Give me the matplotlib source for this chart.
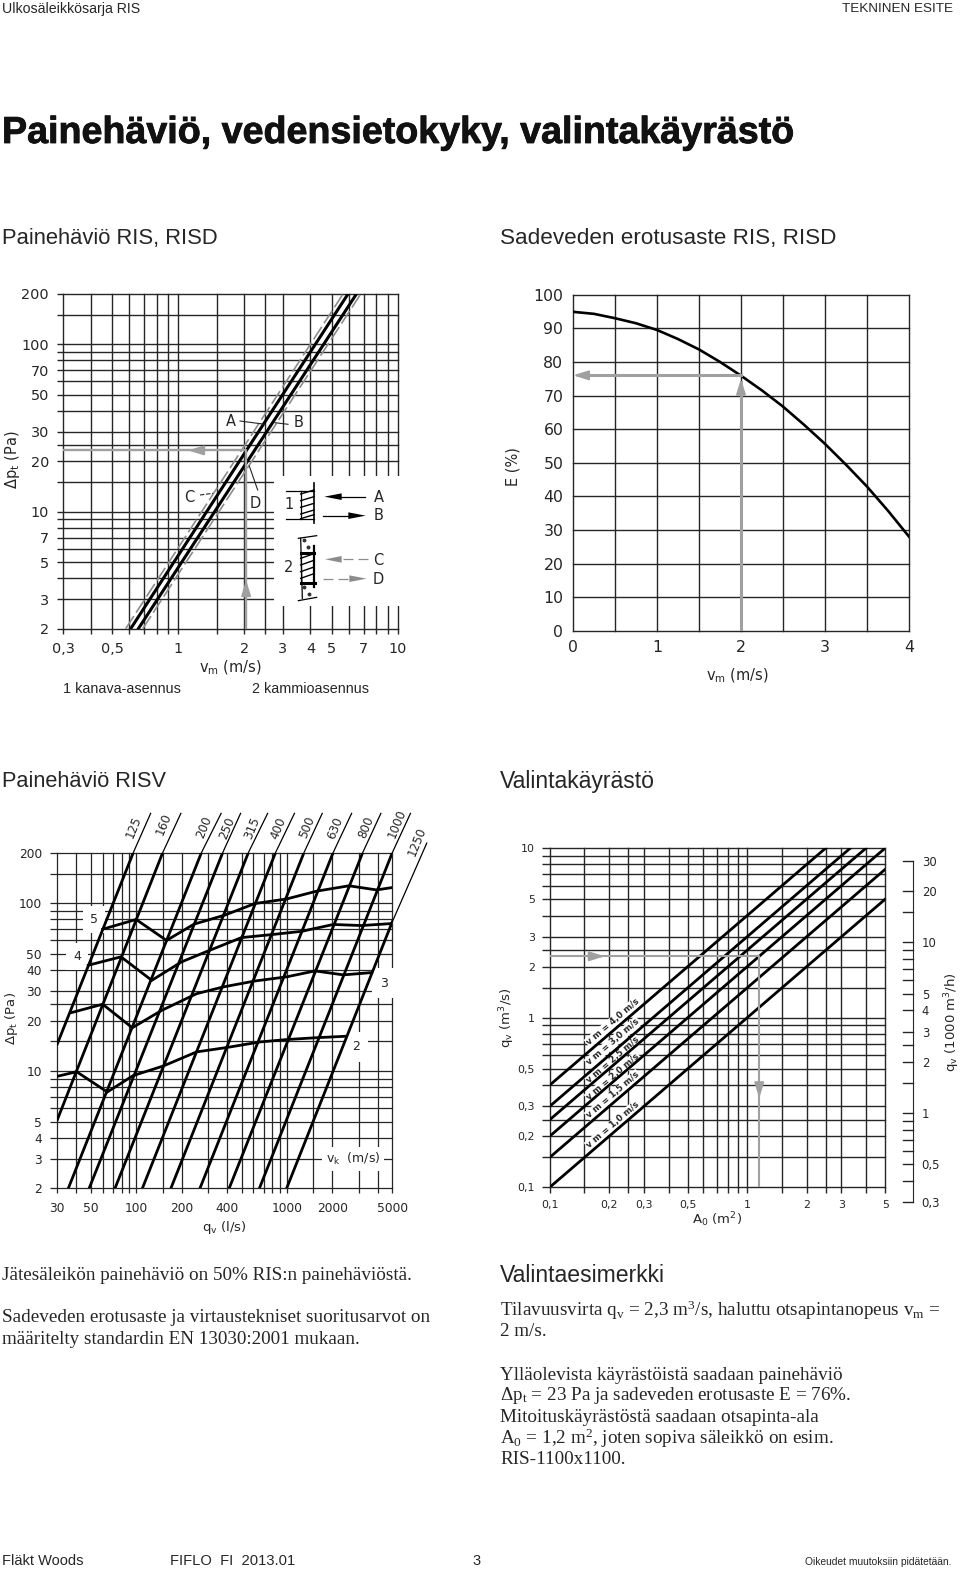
import matplotlib
matplotlib.use('Agg')
from matplotlib import pyplot as plt
from matplotlib import patheffects
from matplotlib.patches import Rectangle, Polygon
from matplotlib.ticker import NullLocator, NullFormatter

W, H = 960, 1571
DARK = '#262626'
GREY = '#a0a0a0'
SANS = 'DejaVu Sans'
HELV = 'Liberation Sans'
SERIF = 'Liberation Serif'
plt.rcParams['mathtext.default'] = 'regular' # subscripts keep the font of the text

# chart 1: pressure drop RIS, RISD
v1_grid = [0.3, 0.4, 0.5, 0.6, 0.7, 0.8, 0.9, 1, 1.5, 2, 2.5, 3, 4, 5, 6, 7, 8, 9, 10]
dp_grid = [2, 3, 4, 5, 6, 7, 8, 9, 10, 15, 20, 25, 30, 40, 50, 60, 70, 80, 90, 100, 150, 200]
v1_ticks = [0.3, 0.5, 1, 2, 3, 4, 5, 7, 10]
v1_labels = ['0,3', '0,5', '1', '2', '3', '4', '5', '7', '10']
dp1_ticks = [2, 3, 5, 7, 10, 20, 30, 50, 70, 100, 200]
dp1_labels = ['2', '3', '5', '7', '10', '20', '30', '50', '70', '100', '200']
dp_ends = [2, 200]
line_a = [0.608, 5.95]
line_b = [0.659, 6.5]
line_c = [0.577, 5.65]
line_d = [0.69, 6.8]
v1_example = 2.04
dp1_example = 23.2

# chart 2: rain separation
v2_grid = [0, 0.5, 1, 1.5, 2, 2.5, 3, 3.5, 4]
e_grid = [0, 10, 20, 30, 40, 50, 60, 70, 80, 90, 100]
v2_ticks = [0, 1, 2, 3, 4]
v_curve = [0, 0.25, 0.5, 0.75, 1, 1.25, 1.5, 1.75, 2, 2.25, 2.5, 2.75, 3, 3.25, 3.5, 3.75, 4]
e_curve = [94.9, 94.3, 93, 91.5, 89.5, 86.8, 83.7, 80, 75.9, 71.5, 66.7, 61.3, 55.6, 49.4, 42.9, 35.7, 28]
v2_example = 2
e_example = 76

# chart 3: pressure drop RISV
q_grid = [30, 40, 50, 60, 70, 80, 90, 100, 150, 200, 300, 400, 500, 600, 700, 800, 900, 1000, 1500, 2000, 3000, 4000, 5000]
q_ticks = [30, 50, 100, 200, 400, 1000, 2000, 5000]
q_labels = ['30', '50', '100', '200', '400', '1000', '2000', '5000']
dp3_ticks = [2, 3, 4, 5, 10, 20, 30, 40, 50, 100, 200]
dp3_labels = ['2', '3', '4', '5', '10', '20', '30', '40', '50', '100', '200']
# duct lines: q and dp at start, at end of the thick part, at end of the thin part
duct_sizes = ['125', '160', '200', '250', '315', '400', '500', '630', '800', '1000', '1250']
duct_q0 = [30, 30, 35.5, 48.8, 72.4, 110, 170, 265, 414, 657, 996]
duct_dp0 = [14.5, 5.12, 2, 2, 2, 2, 2, 2, 2, 2, 2]
duct_q1 = [95.7, 150, 271, 375, 555, 840, 1297, 2025, 3180, 5000, 5000]
duct_dp1 = [200, 200, 200, 200, 200, 200, 200, 200, 200, 200, 77.5]
duct_q2 = [124.8, 198, 366, 493, 745, 1122, 1715, 2686, 4200, 6600, 8460]
duct_dp2 = [343, 343, 343, 343, 343, 343, 343, 343, 343, 343, 228]
q_vk5 = [60, 100, 159, 242, 388, 614, 996, 1574, 2581, 3935, 5000]
dp_vk5 = [70, 80, 60, 75, 85, 99.6, 106, 118, 127, 120, 124]
q_vk4 = [48.2, 79.3, 127, 200, 301, 500, 792, 1253, 2031, 3130, 5000]
dp_vk4 = [42.7, 47.9, 34.7, 44.7, 52, 62.4, 65, 68, 74.7, 73.6, 75.7]
q_vk3 = [37.3, 60, 94.3, 148, 252, 378, 614, 996, 1535, 2366, 3648]
dp_vk3 = [22.3, 25, 18.1, 23, 28.9, 31.7, 34.4, 36.4, 39.5, 37.4, 38.6]
q_vk2 = [30, 40.3, 64.4, 95.7, 151, 252, 398, 663, 996, 1574, 2427]
dp_vk2 = [9.3, 9.9, 7.5, 9.4, 10.7, 13, 13.8, 14.9, 15.4, 15.8, 16.1]

# chart 4: selection chart
a_grid = [0.1, 0.15, 0.2, 0.25, 0.3, 0.4, 0.5, 0.6, 0.7, 0.8, 0.9, 1, 1.5, 2, 2.5, 3, 4, 5]
qs_grid = [0.1, 0.15, 0.2, 0.25, 0.3, 0.4, 0.5, 0.6, 0.7, 0.8, 0.9, 1, 1.5, 2, 2.5, 3, 4, 5, 6, 7, 8, 9, 10]
a_ticks = [0.1, 0.2, 0.3, 0.5, 1, 2, 3, 5]
a_labels = ['0,1', '0,2', '0,3', '0,5', '1', '2', '3', '5']
qs_ticks = [0.1, 0.2, 0.3, 0.5, 1, 2, 3, 5, 10]
qs_labels = ['0,1', '0,2', '0,3', '0,5', '1', '2', '3', '5', '10']
qh_grid = [0.3, 0.4, 0.5, 0.6, 0.7, 0.8, 0.9, 1, 1.5, 2, 2.5, 3, 4, 5, 6, 7, 8, 9, 10, 15, 20, 30]
qh_ticks = [0.3, 0.5, 1, 2, 3, 4, 5, 10, 20, 30]
qh_labels = ['0,3', '0,5', '1', '2', '3', '4', '5', '10', '20', '30']
vm_names = ['4,0', '3,0', '2,5', '2,0', '1,5', '1,0']
vm_a0 = [0.1, 0.1, 0.1, 0.1, 0.1, 0.1]
vm_q0 = [0.4, 0.3, 0.25, 0.2, 0.15, 0.1]
vm_a1 = [2.5, 3.33, 4, 5, 5, 5]
vm_q1 = [10, 10, 10, 10, 7.5, 5]
a_example = 1.15
qs_example = 2.3

fig = plt.figure(figsize=(W/100, H/100), dpi=100)
ov = fig.add_axes([0, 0, 1, 1], zorder=10) # overlay in pixels of the page, for all loose text
ov.set_xlim(0, W)
ov.set_ylim(H, 0)
ov.axis('off')

def chart(left, right, top, bottom, xgrid, ygrid, xticks, xlabels, yticks, ylabels, size, xlen, ylen, pad, log=True, lw=1.0):
    ax = fig.add_axes([left/W, 1-bottom/H, (right-left)/W, (bottom-top)/H])
    if log:
        ax.set_xscale('log')
        ax.set_yscale('log')
    ax.set_xlim(xgrid[0], xgrid[-1])
    ax.set_ylim(ygrid[0], ygrid[-1])
    xmap = dict(zip(xticks, xlabels))
    ymap = dict(zip(yticks, ylabels))
    ax.set_xticks(xgrid)
    ax.set_xticklabels([xmap.get(v, '') for v in xgrid], fontsize=size, color=DARK, family=SANS)
    ax.set_yticks(ygrid)
    ax.set_yticklabels([ymap.get(v, '') for v in ygrid], fontsize=size, color=DARK, family=SANS)
    ax.xaxis.set_minor_locator(NullLocator())
    ax.yaxis.set_minor_locator(NullLocator())
    ax.xaxis.set_minor_formatter(NullFormatter())
    ax.yaxis.set_minor_formatter(NullFormatter())
    ax.tick_params(axis='x', length=xlen, width=lw, color=DARK, pad=pad)
    ax.tick_params(axis='y', length=ylen, width=lw, color=DARK, pad=pad)
    ax.grid(True, color=DARK, lw=lw)
    ax.set_axisbelow(True)
    for line in ax.get_xgridlines() + ax.get_ygridlines():
        line.set_clip_on(False)
    for s in ax.spines.values():
        s.set_visible(False)
    return ax

def grey_head(ax, x0, y0, x1, y1, scale=10):
    ax.annotate('', xy=(x1, y1), xytext=(x0, y0), zorder=6,
                arrowprops=dict(arrowstyle='-|>,head_length=0.9,head_width=0.28', mutation_scale=scale,
                                color=GREY, lw=1.5, shrinkA=0, shrinkB=0))

def label(x, y, s, size=10.5, rot=0, fam=SANS, **kw):
    ov.text(x, y, s, fontsize=size, rotation=rot, family=fam, color=DARK, ha='center', va='center',
            rotation_mode='anchor', **kw)

# page text
ov.text(2, 9, 'Ulkosäleikkösarja RIS', fontsize=10.2, family=HELV, color=DARK, va='center')
ov.text(953, 9, 'TEKNINEN ESITE', fontsize=9.7, family=HELV, color=DARK, va='center', ha='right')
title = ov.text(2, 133, 'Painehäviö, vedensietokyky, valintakäyrästö', fontsize=27.1, family=HELV, weight='bold', color='#111111', va='center')
title.set_path_effects([patheffects.withStroke(linewidth=0.6, foreground='#111111')]) # the original is heavier
ov.text(2, 238, 'Painehäviö RIS, RISD', fontsize=15.8, family=HELV, color=DARK, va='center')
ov.text(500, 238, 'Sadeveden erotusaste RIS, RISD', fontsize=16.2, family=HELV, color=DARK, va='center')
ov.text(2, 781, 'Painehäviö RISV', fontsize=15.7, family=HELV, color=DARK, va='center')
ov.text(500, 781, 'Valintakäyrästö', fontsize=16.6, family=HELV, color=DARK, va='center')
ov.text(500, 1276, 'Valintaesimerkki', fontsize=16.6, family=HELV, color=DARK, va='center')

body = [(2, 1275, 'Jätesäleikön painehäviö on 50% RIS:n painehäviöstä.'),
        (2, 1318, 'Sadeveden erotusaste ja virtaustekniset suoritusarvot on'),
        (2, 1339, 'määritelty standardin EN 13030:2001 mukaan.'),
        (500, 1310, 'Tilavuusvirta q$_{v}$ = 2,3 m$^{3}$/s, haluttu otsapintanopeus v$_{m}$ ='),
        (500, 1332, '2 m/s.'),
        (500, 1375, 'Ylläolevista käyrästöistä saadaan painehäviö'),
        (500, 1396, 'Δp$_{t}$ = 23 Pa ja sadeveden erotusaste E = 76%.'),
        (500, 1417, 'Mitoituskäyrästöstä saadaan otsapinta-ala'),
        (500, 1438, 'A$_{0}$ = 1,2 m$^{2}$, joten sopiva säleikkö on esim.'),
        (500, 1459, 'RIS-1100x1100.')]
for x, y, s in body:
    ov.text(x, y, s, fontsize=13.8, family=SERIF, color=DARK, va='center')

ov.text(2, 1561, 'Fläkt Woods', fontsize=10.5, family=HELV, color=DARK, va='center')
ov.text(170, 1561, 'FIFLO  FI  2013.01', fontsize=10.6, family=HELV, color=DARK, va='center')
ov.text(477, 1561, '3', fontsize=10.5, family=HELV, color=DARK, va='center', ha='center')
ov.text(951, 1562, 'Oikeudet muutoksiin pidätetään.', fontsize=7.4, family=HELV, color=DARK, va='center', ha='right')

# chart 1
ax1 = chart(63.3, 397.7, 293.7, 628.7, v1_grid, dp_grid, v1_ticks, v1_labels, dp1_ticks, dp1_labels, 10.4, 3.6, 4.3, 6)
ax1.add_patch(Rectangle((0.63, 0.068), 0.39, 0.388, transform=ax1.transAxes, fc='white', ec='none', zorder=1, clip_on=False))
for line in [line_c, line_d]:
    ax1.plot(line, dp_ends, color='#8c8c8c', lw=1.2, dashes=(9, 2.5), zorder=3)
ax1.plot(line_a, dp_ends, color='black', lw=2.2, zorder=4)
ax1.plot(line_b, dp_ends, color='black', lw=2.2, zorder=4)
ax1.plot([v1_grid[0], v1_example, v1_example], [dp1_example, dp1_example, dp_grid[0]], color=GREY, lw=1.7, zorder=5)
grey_head(ax1, 1.26, dp1_example, 1.11, dp1_example)
grey_head(ax1, v1_example, 3.25, v1_example, 3.9)

label(230, 668, 'v$_{m}$ (m/s)')
label(12, 460, 'Δp$_{t}$ (Pa)', rot=90)
label(122, 689, '1 kanava-asennus', size=10.4, fam=HELV)
label(310, 689, '2 kammioasennus', size=10.4, fam=HELV)
label(231, 421, 'A')
label(299, 422, 'B')
label(189, 497, 'C')
label(255, 503, 'D')
ov.plot([240, 265], [421, 424.3], color=DARK, lw=0.8)
ov.plot([288, 275], [424.3, 422.7], color=DARK, lw=0.8)
ov.plot([200, 213], [495, 493.3], color=DARK, lw=0.8, dashes=(4, 1.5))
ov.plot([257.7, 249.3], [490, 466], color=DARK, lw=0.8)

# inset of chart 1, drawn in pixels of the page
def z(x, y):
    return 270 + x/3, 470 + y/3

def seg(p, q, lw=0.9, color='black', **kw):
    a, b = z(*p), z(*q)
    ov.plot([a[0], b[0]], [a[1], b[1]], color=color, lw=lw, **kw)

def head(tip, tail, half=10, color='black'):
    t, b = z(*tip), z(*tail)
    w = half/3
    ov.add_patch(Polygon([t, (b[0], b[1]-w), (b[0], b[1]+w)], fc=color, ec='none'))

seg((47, 62), (132, 62))
seg((47, 148), (132, 148))
seg((92, 62), (92, 148))
seg((132, 40), (132, 160), lw=1.2)
for y in range(72, 150, 20):
    seg((92, y), (132, y-12), lw=1.0)
seg((92, 146), (132, 134), lw=1.0)
seg((285, 80), (200, 80), lw=0.9)
head((163, 80), (215, 80))
seg((160, 137), (250, 137), lw=0.9)
head((287, 137), (235, 137))
label(*z(326, 82), 'A')
label(*z(326, 138), 'B')
label(*z(57, 103), '1')

seg((92, 205), (97, 385))
seg((85, 205), (140, 197))
seg((85, 392), (140, 382))
seg((92, 248), (132, 248), lw=2.2)
seg((92, 338), (135, 338), lw=2.2)
seg((92, 248), (92, 338))
seg((132, 228), (132, 350), lw=1.6)
for y in range(265, 340, 20):
    seg((92, y), (132, y-14), lw=1.0)
for x, y in [(103, 211), (114, 231), (103, 350), (118, 373)]:
    ov.plot(*z(x, y), 'o', ms=1.8, color='#333333')
seg((295, 268), (200, 268), lw=0.9, color='#8c8c8c', dashes=(8, 4))
head((165, 268), (215, 268), color='#8c8c8c')
seg((160, 326), (250, 326), lw=0.9, color='#8c8c8c', dashes=(8, 4))
head((290, 326), (238, 326), color='#8c8c8c')
label(*z(326, 270), 'C')
label(*z(326, 328), 'D')
label(*z(55, 292), '2')

# chart 2
ax2 = chart(573, 909, 294.7, 630.7, v2_grid, e_grid, v2_ticks, [str(v) for v in v2_ticks], e_grid, [str(v) for v in e_grid], 11.3, 0, 0, 7, log=False)
ax2.plot(v_curve, e_curve, color='black', lw=1.9, zorder=4)
ax2.plot([v2_example, v2_example], [e_grid[0], 74], color=GREY, lw=2.2, zorder=5)
ax2.plot([v2_example, 0.1], [e_example, e_example], color=GREY, lw=2.2, zorder=5)
grey_head(ax2, v2_example, 68, v2_example, 75)
grey_head(ax2, 0.12, e_example, 0, e_example)
label(737, 676, 'v$_{m}$ (m/s)')
label(513, 467, 'E (%)', rot=90)

# chart 3
ax3 = chart(57.3, 392.3, 852.7, 1188.3, q_grid, dp_grid, q_ticks, q_labels, dp3_ticks, dp3_labels, 8.8, 3.6, 5, 6, lw=0.9)
for i in range(len(duct_sizes)):
    ax3.plot([duct_q0[i], duct_q1[i]], [duct_dp0[i], duct_dp1[i]], color='black', lw=2.0, zorder=4)
    ax3.plot([duct_q1[i], duct_q2[i]], [duct_dp1[i], duct_dp2[i]], color='black', lw=0.9, zorder=4, clip_on=False)
for qs, dps in [(q_vk5, dp_vk5), (q_vk4, dp_vk4), (q_vk3, dp_vk3), (q_vk2, dp_vk2)]:
    ax3.plot(qs, dps, color='black', lw=2.0, zorder=4, solid_joinstyle='miter')

duct_x = [134, 164, 204, 227, 252, 278, 307, 335, 366, 397, 417]
duct_y = [827, 824, 827, 828, 828, 828, 827, 828, 827, 824, 842]
for name, x, y in zip(duct_sizes, duct_x, duct_y):
    label(x, y, name, size=8.6, rot=68)

for x, y, s, p in [(94, 919, '5', 5), (77, 956, '4', 5), (384, 983, '3', 6), (356, 1047, '2', 6)]:
    ax3.text(x, y, s, transform=ov.transData, fontsize=9, family=SANS, color=DARK, ha='center', va='center', zorder=1.5,
             clip_on=False, bbox=dict(fc='white', ec='none', pad=p))
ax3.text(353, 1159, 'v$_{k}$  (m/s)', transform=ov.transData, fontsize=9, family=SANS, color=DARK, ha='center', va='center',
         zorder=1.5, clip_on=False, bbox=dict(fc='white', ec='none', pad=3))
label(224, 1228, 'q$_{v}$ (l/s)', size=9.5)
label(11, 1018, 'Δp$_{t}$ (Pa)', size=9.5, rot=90)

# chart 4
ax4 = chart(549.7, 885.3, 848, 1187.3, a_grid, qs_grid, a_ticks, a_labels, qs_ticks, qs_labels, 7.9, 4.3, 5.8, 5)
for i in range(len(vm_names)):
    ax4.plot([vm_a0[i], vm_a1[i]], [vm_q0[i], vm_q1[i]], color='black', lw=2.0, zorder=4)
ax4.plot([a_grid[0], a_example, a_example], [qs_example, qs_example, qs_grid[0]], color=GREY, lw=1.5, zorder=5)
grey_head(ax4, 0.166, qs_example, 0.19, qs_example)
grey_head(ax4, a_example, 0.392, a_example, 0.335)

vm_y = [1022, 1042, 1060, 1077, 1095, 1125]
for name, y in zip(vm_names, vm_y):
    ax4.text(613, y, 'v m = %s m/s' % name, transform=ov.transData, fontsize=6.2, family=SANS, weight='bold', color=DARK,
             rotation=40.5, rotation_mode='anchor', ha='center', va='center', zorder=1.5,
             bbox=dict(fc='white', ec='none', pad=0.6))
label(507, 1018, 'q$_{v}$ (m$^{3}$/s)', size=9.5, rot=90)
label(717, 1220, 'A$_{0}$ (m$^{2}$)', size=9.5)

# right axis of chart 4, a second scale of the same flow
ax5 = fig.add_axes([880/W, 1-1202.3/H, 33.3/W, (1202.3-861)/H])
ax5.set_yscale('log')
ax5.set_ylim(qh_grid[0], qh_grid[-1])
ax5.patch.set_visible(False)
ax5.set_xticks([])
for name in ['top', 'bottom', 'left']:
    ax5.spines[name].set_visible(False)
ax5.spines['right'].set_color(DARK)
ax5.yaxis.tick_right()
qh_map = dict(zip(qh_ticks, qh_labels))
ax5.set_yticks(qh_grid)
ax5.set_yticklabels([qh_map.get(v, '') for v in qh_grid], fontsize=8.4, color=DARK, family=SANS)
ax5.yaxis.set_minor_locator(NullLocator())
ax5.yaxis.set_minor_formatter(NullFormatter())
ax5.tick_params(axis='y', direction='out', length=0, pad=6)
for v in qh_grid: # ticks point inwards to the chart
    ax5.plot([0.68, 1], [v, v], color=DARK, lw=1.0, transform=ax5.get_yaxis_transform(), clip_on=False)
label(952, 1022, 'q$_{v}$ (1000 m$^{3}$/h)', size=9.5, rot=90)

fig.savefig('out.png', dpi=100)
